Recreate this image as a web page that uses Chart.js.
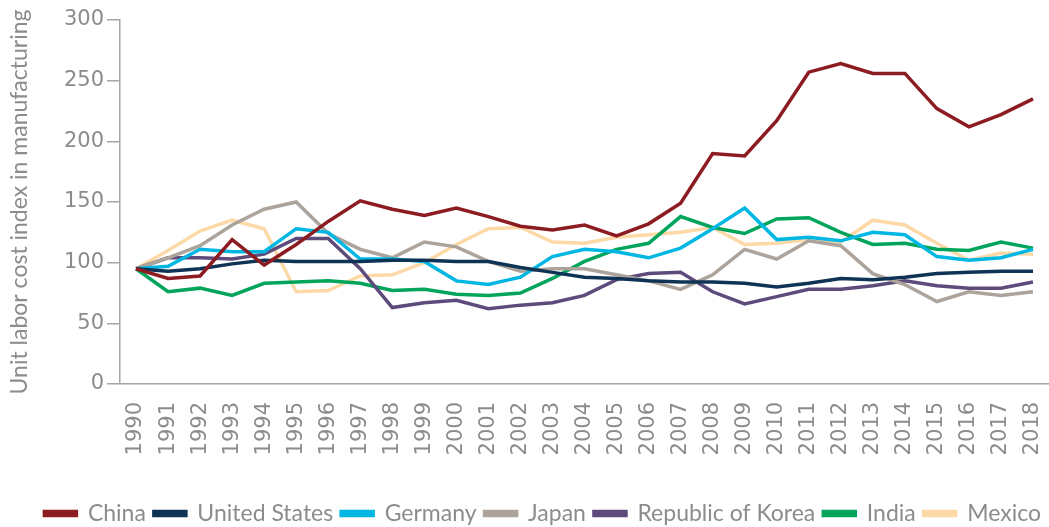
<!DOCTYPE html>
<html>
<head>
<meta charset="utf-8">
<script src="https://cdn.jsdelivr.net/npm/chart.js@4/dist/chart.umd.min.js"></script>
<style>
  html, body { margin: 0; padding: 0; background: #fff; overflow: hidden; }
  /* a little taller than the window so the legend sits where it does in the original */
  #wrap { width: 1049px; height: 535px; position: relative; }
</style>
</head>
<body>
<div id="wrap"><canvas id="c"></canvas></div>
<script>
// years on the x axis
const years = ['1990','1991','1992','1993','1994','1995','1996','1997','1998','1999',
  '2000','2001','2002','2003','2004','2005','2006','2007','2008','2009',
  '2010','2011','2012','2013','2014','2015','2016','2017','2018'];

// unit labor cost index
const china = [95, 87, 89, 119, 98, 115, 134, 151, 144, 139, 145, 138, 130, 127, 131, 122, 132, 149, 190, 188,
  217, 257, 264, 256, 256, 227, 212, 222, 235];
const unitedStates = [95, 93, 95, 99, 102, 101, 101, 101, 102, 102, 101, 101, 96, 92, 88, 87, 85, 84, 84, 83,
  80, 83, 87, 86, 88, 91, 92, 93, 93];
const germany = [95, 97, 111, 109, 109, 128, 125, 103, 103, 101, 85, 82, 88, 105, 111, 109, 104, 112, 128, 145,
  119, 121, 118, 125, 123, 105, 102, 104, 111];
const japan = [95, 104, 114, 131, 144, 150, 124, 111, 104, 117, 113, 101, 93, 95, 95, 90, 85, 78, 90, 111,
  103, 118, 114, 91, 82, 68, 76, 73, 76];
const korea = [95, 104, 104, 103, 107, 120, 120, 95, 63, 67, 69, 62, 65, 67, 73, 86, 91, 92, 76, 66,
  72, 78, 78, 81, 85, 81, 79, 79, 84];
const india = [95, 76, 79, 73, 83, 84, 85, 83, 77, 78, 74, 73, 75, 87, 101, 111, 116, 138, 129, 124,
  136, 137, 125, 115, 116, 111, 110, 117, 112];
const mexico = [95, 110, 126, 135, 128, 76, 77, 89, 90, 100, 115, 128, 129, 117, 116, 121, 123, 125, 129, 115,
  116, 119, 117, 135, 131, 116, 102, 108, 107];

const yTicks = [0, 50, 100, 150, 200, 250, 300];

const grey = '#8c8c8c';
const axisGrey = '#a6a6a6';

function line(label, data, color) {
  return {
    label: label,
    data: data,
    borderColor: color,
    backgroundColor: color,
    borderWidth: 3.5,
    pointRadius: 0,
    tension: 0,
    fill: false
  };
}

const config = {
  type: 'line',
  data: {
    labels: years,
    datasets: [
      line('China', china, '#8c1c22'),
      line('United States', unitedStates, '#0f3354'),
      line('Germany', germany, '#00b7e3'),
      line('Japan', japan, '#aca39b'),
      line('Republic of Korea', korea, '#5d4b7b'),
      line('India', india, '#00a45a'),
      line('Mexico', mexico, '#fed9a8')
    ]
  },
  options: {
    responsive: true,
    maintainAspectRatio: false,
    animation: false,
    layout: { padding: { top: 20, right: 0, bottom: 0, left: 0 } },
    plugins: {
      tooltip: { enabled: false },
      legend: {
        position: 'bottom',
        align: 'end',
        labels: {
          boxWidth: 32,
          boxHeight: 4,
          padding: 8,
          color: grey,
          font: { family: 'Lato', size: 23 }
        }
      }
    },
    scales: {
      x: {
        offset: true,
        grid: { display: false },
        border: { display: true, color: axisGrey, width: 1.5 },
        ticks: {
          color: grey,
          minRotation: 90,
          maxRotation: 90,
          autoSkip: false,
          padding: 10,
          font: { family: 'DejaVu Sans', size: 21 }
        },
        afterFit: function (scale) {
          scale.height = 110;
          scale.paddingLeft = 0;
          scale.paddingRight = 0;
        }
      },
      y: {
        min: 0,
        max: 300,
        afterBuildTicks: function (scale) {
          scale.ticks = yTicks.map(v => ({ value: v }));
        },
        grid: {
          drawOnChartArea: false,
          drawTicks: true,
          tickLength: 13,
          color: axisGrey,
          lineWidth: 1.5
        },
        border: { display: true, color: axisGrey, width: 1.5 },
        ticks: {
          color: grey,
          padding: 3,
          font: { family: 'DejaVu Sans', size: 21 }
        },
        title: {
          display: true,
          text: 'Unit labor cost index in manufacturing',
          color: grey,
          padding: { top: 6, bottom: 0 },
          font: { family: 'Lato', size: 23 }
        },
        afterFit: function (scale) { scale.width = 120; }
      }
    }
  }
};

new Chart(document.getElementById('c'), config);
</script>
</body>
</html>
